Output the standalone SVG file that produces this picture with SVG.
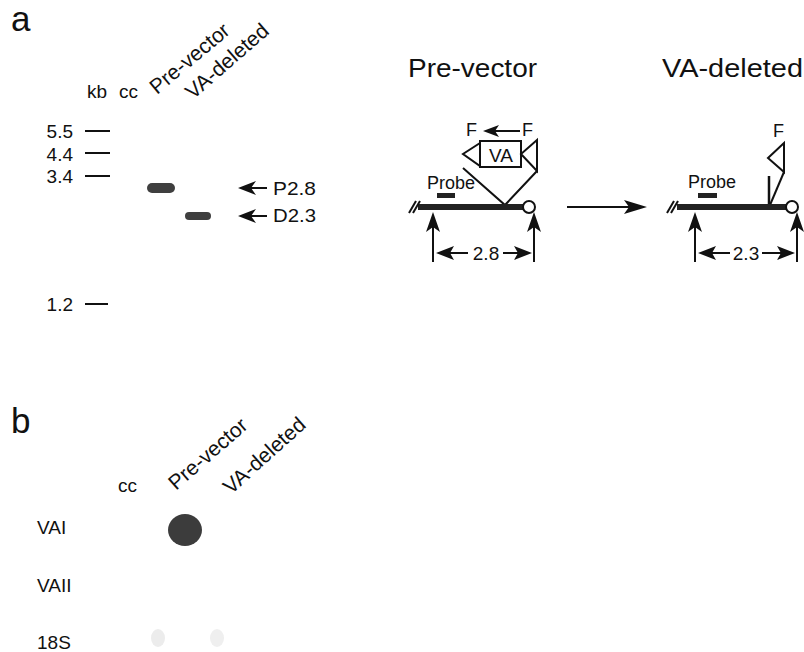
<svg xmlns="http://www.w3.org/2000/svg" width="804" height="652" viewBox="0 0 804 652">
<style>
text{font-family:"Liberation Sans",Arial,sans-serif;fill:#111}
.big{font-size:35px}
.lbl{font-size:19px}
.rot{font-size:21px}
.ttl{font-size:26px}
.sm{font-size:18px}
.ln{stroke:#111;stroke-width:2;fill:none}
.hd{fill:#111;stroke:none}
.bb{stroke:#222;stroke-width:6;fill:none}
.band{fill:#3f3f3f}
</style>
<rect width="804" height="652" fill="#fff"/>

<g id="panel-a-labels">
<text class="big" x="11" y="31">a</text>
<text class="lbl" x="87" y="98">kb</text>
<text class="lbl" x="119" y="98">cc</text>
<text class="rot" transform="translate(157,95) rotate(-40)">Pre-vector</text>
<text class="rot" transform="translate(193,100) rotate(-41)">VA-deleted</text>
</g>

<g id="markers">
<text class="lbl" x="73" y="138" text-anchor="end">5.5</text>
<text class="lbl" x="73" y="161" text-anchor="end">4.4</text>
<text class="lbl" x="73" y="183" text-anchor="end">3.4</text>
<text class="lbl" x="73" y="311" text-anchor="end">1.2</text>
<line class="ln" x1="85" y1="131" x2="110" y2="131"/>
<line class="ln" x1="85" y1="153" x2="110" y2="153"/>
<line class="ln" x1="85" y1="176" x2="110" y2="176"/>
<line class="ln" x1="85" y1="304" x2="108" y2="304"/>
</g>

<g id="bands">
<rect class="band" x="147" y="183" width="28" height="10" rx="5"/>
<rect class="band" x="185" y="212" width="26" height="8" rx="4"/>
</g>

<g id="band-labels">
<text class="lbl" x="273" y="195" textLength="43" lengthAdjust="spacingAndGlyphs">P2.8</text>
<text class="lbl" x="273" y="222" textLength="43" lengthAdjust="spacingAndGlyphs">D2.3</text>
</g>

<g id="prevector-construct">
<text class="ttl" x="408" y="77" textLength="129" lengthAdjust="spacingAndGlyphs">Pre-vector</text>
<text class="sm" x="466" y="136">F</text>
<text class="sm" x="522" y="136">F</text>
<rect x="480" y="141" width="41" height="26" class="ln"/>
<text class="lbl" x="501" y="162" text-anchor="middle">VA</text>
<polygon class="ln" points="480,143 463,154 480,166"/>
<polygon class="ln" points="537,140 521,154 537,171"/>
<polyline class="ln" points="463,168 505,205 537,171"/>
<text class="sm" x="427" y="189">Probe</text>
<rect x="437" y="193" width="18" height="5" fill="#222"/>
<line class="bb" x1="418" y1="207" x2="523" y2="207"/>
<circle cx="529" cy="207" r="6" fill="#fff" stroke="#111" stroke-width="2"/>
<line class="ln" x1="409" y1="213" x2="416" y2="201"/>
<line class="ln" x1="413" y1="213" x2="420" y2="201"/>
<text class="lbl" x="486" y="260" text-anchor="middle">2.8</text>
</g>

<g id="vadeleted-construct">
<text class="ttl" x="662" y="77" textLength="141" lengthAdjust="spacingAndGlyphs">VA-deleted</text>
<text class="sm" x="773" y="137">F</text>
<polygon class="ln" points="784,143 768,158 784,172"/>
<line class="ln" x1="784" y1="172" x2="770" y2="205"/>
<line x1="769" y1="176" x2="769" y2="205" stroke="#111" stroke-width="2.5"/>
<text class="sm" x="688" y="188">Probe</text>
<rect x="698" y="193" width="19" height="5" fill="#222"/>
<line class="bb" x1="677" y1="207" x2="786" y2="207"/>
<circle cx="792" cy="207" r="6" fill="#fff" stroke="#111" stroke-width="2"/>
<line class="ln" x1="667" y1="213" x2="674" y2="201"/>
<line class="ln" x1="671" y1="213" x2="678" y2="201"/>
<text class="lbl" x="746" y="260" text-anchor="middle">2.3</text>
</g>

<g id="connectors">
<line class="ln" x1="246" y1="188" x2="267" y2="188"/>
<path class="hd" d="M238,188 L256,181 L251,188 L256,195 Z"/>
<line class="ln" x1="246" y1="216" x2="267" y2="216"/>
<path class="hd" d="M238,216 L256,209 L251,216 L256,223 Z"/>
<line class="ln" x1="490" y1="131" x2="520" y2="131"/>
<path class="hd" d="M483,131 L499,125 L495,131 L499,137 Z"/>
<line class="ln" x1="433" y1="222" x2="433" y2="262"/>
<path class="hd" d="M433,212 L426,232 L433,227 L440,232 Z"/>
<line class="ln" x1="534" y1="222" x2="534" y2="262"/>
<path class="hd" d="M534,212 L527,232 L534,227 L541,232 Z"/>
<line class="ln" x1="444" y1="253" x2="468" y2="253"/>
<path class="hd" d="M436,253 L454,246 L450,253 L454,260 Z"/>
<line class="ln" x1="503" y1="253" x2="524" y2="253"/>
<path class="hd" d="M532,253 L514,246 L518,253 L514,260 Z"/>
<line class="ln" x1="567" y1="207" x2="635" y2="207"/>
<path class="hd" d="M647,207 L624,200 L629,207 L624,214 Z"/>
<line class="ln" x1="695" y1="222" x2="695" y2="262"/>
<path class="hd" d="M695,212 L688,232 L695,227 L702,232 Z"/>
<line class="ln" x1="797" y1="222" x2="797" y2="262"/>
<path class="hd" d="M797,212 L790,232 L797,227 L804,232 Z"/>
<line class="ln" x1="706" y1="253" x2="730" y2="253"/>
<path class="hd" d="M698,253 L716,246 L712,253 L716,260 Z"/>
<line class="ln" x1="762" y1="253" x2="787" y2="253"/>
<path class="hd" d="M795,253 L777,246 L781,253 L777,260 Z"/>
</g>

<g id="panel-b">
<text class="big" x="11" y="433">b</text>
<text class="lbl" x="118" y="492">cc</text>
<text class="rot" transform="translate(176,491) rotate(-41)">Pre-vector</text>
<text class="rot" transform="translate(231,495) rotate(-42)">VA-deleted</text>
<text class="lbl" x="37" y="534">VAI</text>
<text class="lbl" x="37" y="592">VAII</text>
<text class="lbl" x="37" y="649">18S</text>
<ellipse cx="185" cy="530" rx="17" ry="16" fill="#3c3c3c"/>
<ellipse cx="158" cy="638" rx="7" ry="9" fill="#ececec"/>
<ellipse cx="217" cy="638" rx="7" ry="9" fill="#efefef"/>
</g>
</svg>
